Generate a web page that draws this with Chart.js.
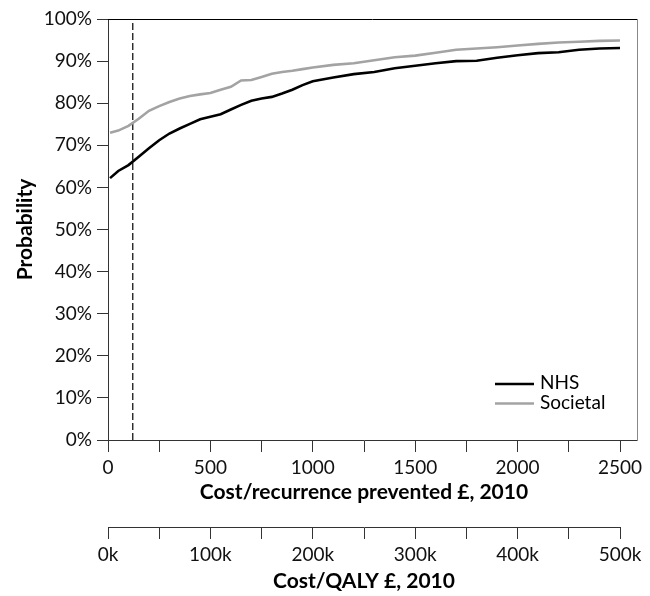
<!DOCTYPE html>
<html><head><meta charset="utf-8">
<script src="https://cdn.jsdelivr.net/npm/chart.js@4.4.0/dist/chart.umd.min.js"></script>
<style>html,body{margin:0;padding:0;background:#fff;}#wrap{width:650px;height:596px;position:relative;}</style>
</head><body><div id="wrap"><canvas id="c" width="650" height="596"></canvas></div>
<script>
// ---- data ----
const costPoints = [10,50,100,150,200,250,300,350,400,450,500,550,600,650,700,750,800,850,900,950,1000,1100,1200,1300,1400,1500,1600,1700,1800,1900,2000,2100,2200,2300,2400,2500];
const nhsProb = [62.2,63.9,65.3,67.3,69.3,71.2,72.8,74.0,75.1,76.2,76.8,77.4,78.5,79.6,80.6,81.1,81.5,82.3,83.2,84.3,85.2,86.1,86.9,87.4,88.3,88.9,89.5,90.0,90.1,90.8,91.4,91.9,92.1,92.7,93.0,93.1];
const societalProb = [73.0,73.5,74.6,76.3,78.2,79.3,80.3,81.1,81.7,82.1,82.4,83.2,83.9,85.4,85.5,86.2,87.0,87.4,87.7,88.1,88.5,89.1,89.5,90.2,90.9,91.3,92.0,92.7,93.0,93.3,93.7,94.1,94.4,94.6,94.8,94.9];
const seriesLabels = ['NHS', 'Societal'];
const thresholdCost = [121, 121];
const thresholdProb = [0, 100];
const costAxisRange = [0, 2500];
const qalyAxisRange = [0, 500000];
const probAxisRange = [0, 100];
const axisTitles = ['Cost/recurrence prevented £, 2010', 'Cost/QALY £, 2010', 'Probability'];

const toXY = (xs, ys) => xs.map((x, i) => ({x: x, y: ys[i]}));

const FONT = 'Lato, "Open Sans", sans-serif';
Chart.defaults.font.family = FONT;
Chart.defaults.color = '#000';

const frame = {
  id: 'frame',
  afterDraw(chart) {
    const ctx = chart.ctx, a = chart.chartArea;
    const ext = 17;
    ctx.save();
    ctx.lineWidth = 1;
    ctx.strokeStyle = '#000';
    ctx.beginPath(); ctx.moveTo(a.left, a.top + 0.5); ctx.lineTo(a.right + ext, a.top + 0.5); ctx.stroke();
    ctx.strokeStyle = '#333';
    ctx.beginPath(); ctx.moveTo(a.right, a.bottom + 0.5); ctx.lineTo(a.right + ext, a.bottom + 0.5); ctx.stroke();
    ctx.strokeStyle = '#888';
    ctx.beginPath(); ctx.moveTo(a.right + ext + 0.5, a.top); ctx.lineTo(a.right + ext + 0.5, a.bottom + 1); ctx.stroke();
    // legend
    const items = chart.data.datasets.filter(d => d.inLegend);
    ctx.font = '19px ' + FONT;
    ctx.textBaseline = 'middle';
    ctx.textAlign = 'left';
    items.forEach((d, i) => {
      const y = a.bottom - 56 + i * 19.5;
      ctx.strokeStyle = d.borderColor;
      ctx.lineWidth = d.borderWidth;
      ctx.beginPath(); ctx.moveTo(a.right - 125, y); ctx.lineTo(a.right - 86, y); ctx.stroke();
      ctx.fillStyle = '#000';
      ctx.fillText(d.label, a.right - 80, y - 1);
    });
    ctx.restore();
  }
};

new Chart(document.getElementById('c'), {
  type: 'line',
  data: {
    datasets: [
      {label: seriesLabels[0], data: toXY(costPoints, nhsProb), borderColor: '#000', borderWidth: 2.6, pointRadius: 0, tension: 0, inLegend: true},
      {label: seriesLabels[1], data: toXY(costPoints, societalProb), borderColor: '#a3a3a3', borderWidth: 2.6, pointRadius: 0, tension: 0, inLegend: true},
      {label: 'threshold', data: toXY(thresholdCost, thresholdProb), borderColor: '#000', borderWidth: 1.2, borderDash: [7, 3], pointRadius: 0, inLegend: false}
    ]
  },
  options: {
    responsive: false,
    animation: false,
    devicePixelRatio: 1,
    layout: {padding: {top: 19, right: 30, bottom: 0, left: 0}},
    plugins: {legend: {display: false}, tooltip: {enabled: false}},
    scales: {
      x: {
        type: 'linear', position: 'bottom', weight: 0,
        min: costAxisRange[0], max: costAxisRange[1],
        afterFit: s => { s.height = 87; },
        ticks: {stepSize: 250, autoSkip: false, maxRotation: 0, padding: 4, font: {size: 19}, color: '#111',
          callback: v => (v % 500 === 0 ? String(v) : '')},
        grid: {drawOnChartArea: false, drawTicks: true, tickLength: 12, color: '#333', lineWidth: 1},
        border: {display: true, color: '#333', width: 1},
        title: {display: true, text: axisTitles[0], font: {size: 21, weight: 'bold'}, padding: {top: 0, bottom: 22}, color: '#000'}
      },
      x2: {
        type: 'linear', position: 'bottom', weight: 1,
        min: qalyAxisRange[0], max: qalyAxisRange[1],
        afterFit: s => { s.height = 69; },
        ticks: {stepSize: 50000, autoSkip: false, maxRotation: 0, padding: 4, font: {size: 19}, color: '#111',
          callback: v => (v % 100000 === 0 ? (v / 1000) + 'k' : '')},
        grid: {drawOnChartArea: false, drawTicks: true, tickLength: 12, color: '#333', lineWidth: 1},
        border: {display: true, color: '#333', width: 1},
        title: {display: true, text: axisTitles[1], font: {size: 21, weight: 'bold'}, padding: {top: 0, bottom: 2}, color: '#000'}
      },
      y: {
        type: 'linear', position: 'left',
        min: probAxisRange[0], max: probAxisRange[1],
        afterFit: s => { s.width = 108; },
        ticks: {stepSize: 10, padding: 5, font: {size: 19}, color: '#111', callback: v => v + '%'},
        grid: {drawOnChartArea: false, drawTicks: true, tickLength: 11, color: '#333', lineWidth: 1},
        border: {display: true, color: '#333', width: 1},
        title: {display: true, text: axisTitles[2], font: {size: 21, weight: 'bold'}, padding: {top: 13, bottom: 0}, color: '#000'}
      }
    }
  },
  plugins: [frame]
});
</script></body></html>
